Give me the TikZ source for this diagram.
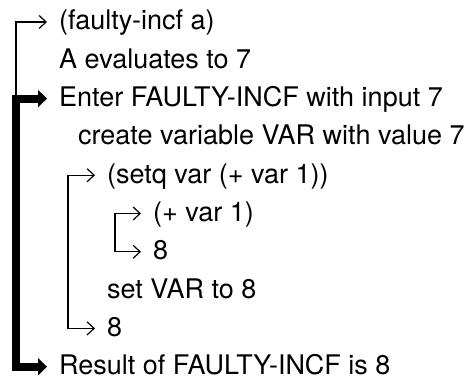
\documentclass[tikz,border=0pt]{standalone}
\usepackage{fontspec}
\setmainfont{TeX Gyre Heros}
\usetikzlibrary{arrows.meta}

\begin{document}
\begin{tikzpicture}[
    x=1pt, y=-1pt,
    every node/.style={anchor=base west, inner xsep=12pt, inner ysep=0pt, text height=16pt, text depth=0pt, font=\fontsize{27}{30}\selectfont},
    thinbracket/.style={line width=1.2pt, {Straight Barb[length=7pt,width=13pt]}-{Straight Barb[length=7pt,width=13pt]}},
    thinarrow/.style={line width=1.2pt, -{Straight Barb[length=7pt,width=13pt]}},
    thickbracket/.style={line width=8pt, {Triangle[length=9pt,width=17pt]}-{Triangle[length=9pt,width=17pt]}}
]
    \useasboundingbox (0,0) rectangle (467,379);

    % trace lines
    \node (l1) at (47,30) {(faulty-incf a)};
    \node (l2) at (47,68.3) {A evaluates to 7};
    \node (l3) at (47,106.6) {Enter FAULTY-INCF with input 7};
    \node (l4) at (66,144.9) {create variable VAR with value 7};
    \node (l5) at (95,183.2) {(setq var (+ var 1))};
    \node (l6) at (141,221.5) {(+ var 1)};
    \node (l7) at (141,259.8) {8};
    \node (l8) at (95,298.1) {set VAR to 8};
    \node (l9) at (95,336.4) {8};
    \node (l10) at (47,374.7) {Result of FAULTY-INCF is 8};

    % brackets
    \draw[thickbracket] (l3.west) -- ++(-31,0) |- (l10.west);
    \draw[thinarrow] ([xshift=-31pt]l3.west) |- (l1.west);
    \draw[thinbracket] (l5.west) -- ++(-27,0) |- (l9.west);
    \draw[thinbracket] (l6.west) -- ++(-26,0) |- (l7.west);

\end{tikzpicture}
\end{document}
